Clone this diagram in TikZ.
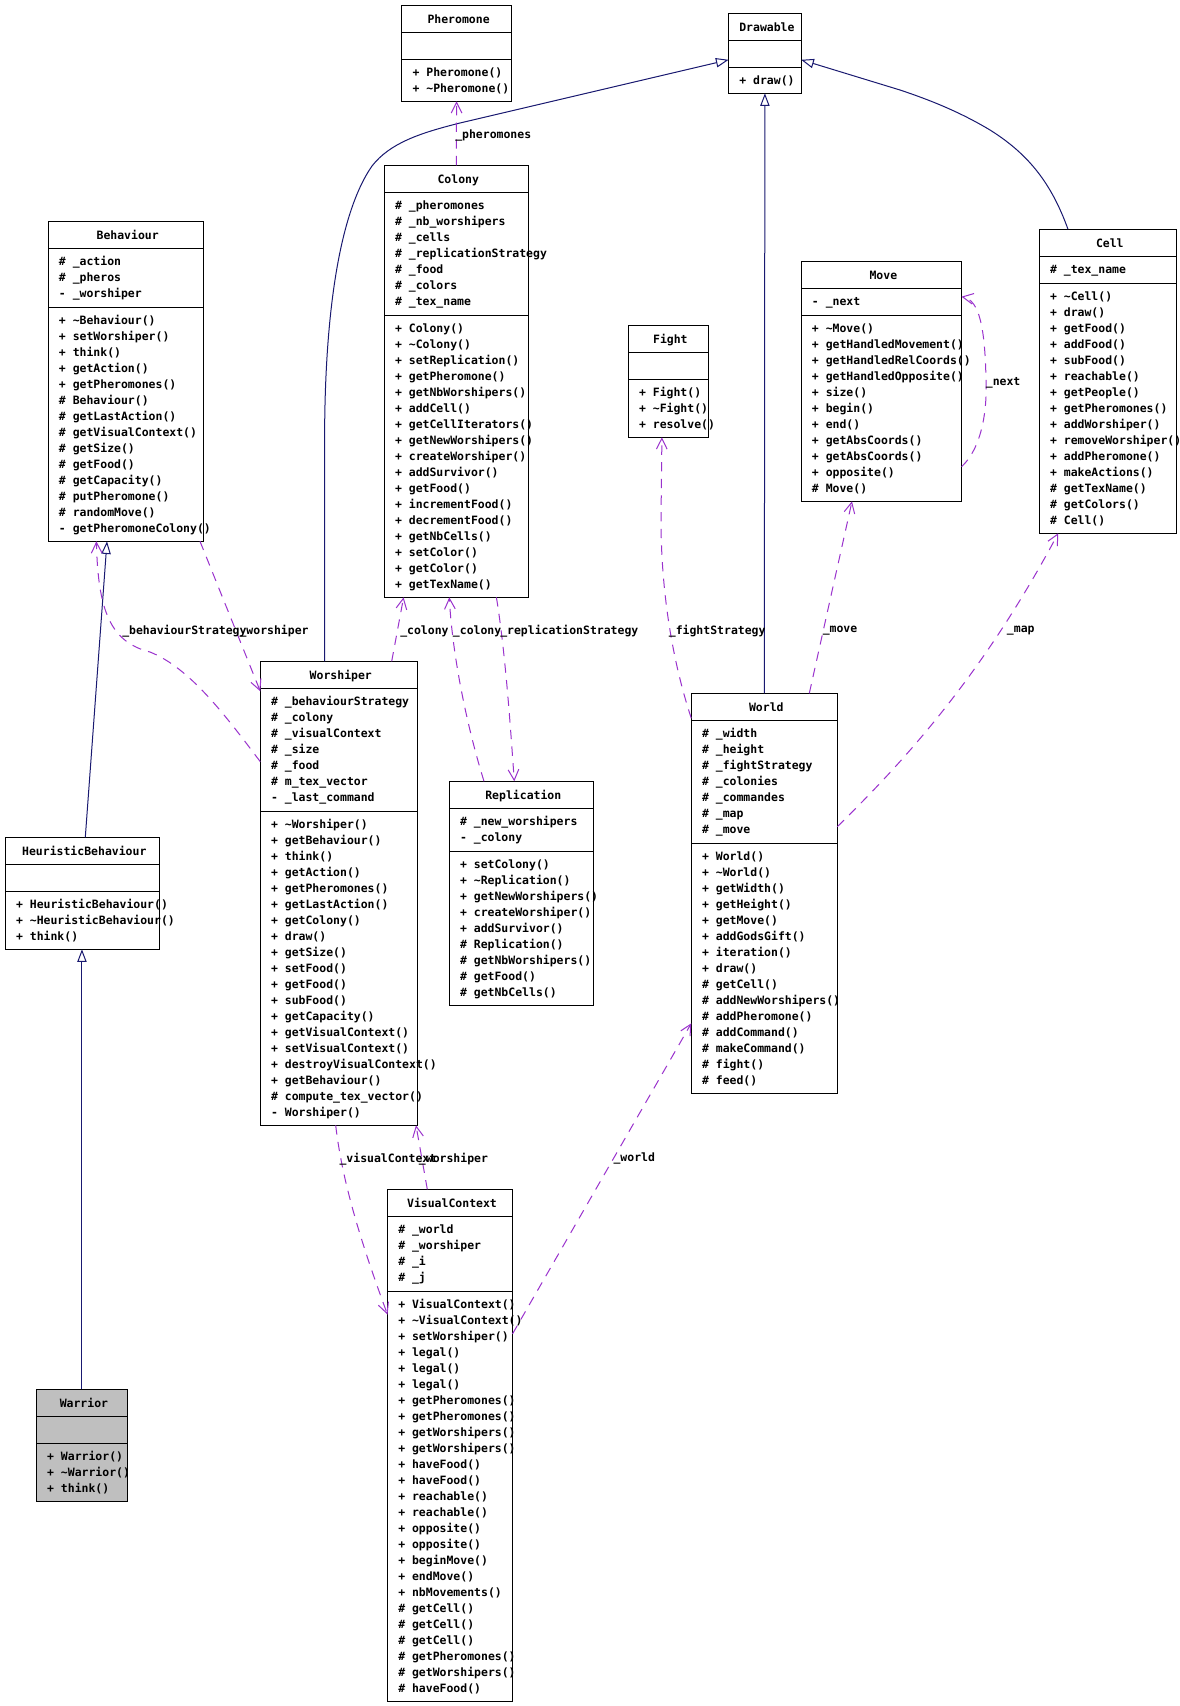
\documentclass[tikz,border=0pt]{standalone}
\usepackage{fontspec}
\setmonofont{DejaVu Sans Mono}
\usetikzlibrary{arrows.meta,calc,fit}
\definecolor{inhblue}{HTML}{191970}
\definecolor{colpurple}{HTML}{9A32CD}
\definecolor{warriorgray}{HTML}{BFBFBF}
\newcommand{\umlfont}{\ttfamily\bfseries\fontsize{8.6}{12}\selectfont}
\tikzset{
  classbox/.style={draw=black, line width=0.75pt, inner sep=0pt, outer sep=0pt, fill=white},
  classtext/.style={inner sep=0pt, font=\umlfont, text=black},
  inherit/.style={draw=inhblue, line width=0.75pt, -{Triangle[open, length=9.5pt, width=7pt]}},
  collab/.style={draw=colpurple, line width=0.75pt, dash pattern=on 7pt off 5.5pt, -{Straight Barb[length=8pt, width=8pt]}},
  edgelabel/.style={inner sep=0pt, font=\umlfont, text=black, anchor=west},
}
% name, x1, y1, x2, y(attr/ops separator), y2, title, attributes, operations
\newcommand{\umlclass}[9]{%
  \node[classbox, fit={(#2,#3) (#4,#6)}] (#1) {};
  \draw[line width=0.75pt] (#2,#3+27) -- (#4,#3+27);
  \draw[line width=0.75pt] (#2,#5) -- (#4,#5);
  \node[classtext, anchor=base] (#1-title) at ({(#2+#4)/2+2},{#3+18.5}) {#7};
  \node[classtext, anchor=north west] (#1-attrs) at ({#2+10.5},{#3+33}) {\begin{tabular}{@{}l@{}}#8\end{tabular}};
  \node[classtext, anchor=north west] (#1-ops) at ({#2+10.5},{#5+6}) {\begin{tabular}{@{}l@{}}#9\end{tabular}};
}
\newcommand{\tld}{\textasciitilde}
\begin{document}
\begin{tikzpicture}[x=0.75pt, y=-0.75pt]
\fill[white] (0,0) rectangle (1179,1706);
\useasboundingbox (0,0) rectangle (1179,1706);

\umlclass{pheromone}{401.8}{5.3}{511.4}{59.3}{101.3}{Pheromone}{}{%
+ Pheromone()\\+ \tld Pheromone()}

\umlclass{drawable}{728.6}{13.3}{801.2}{67.3}{93.3}{Drawable}{}{+ draw()}

\umlclass{behaviour}{48.2}{221.3}{203.2}{307.3}{541.3}{Behaviour}{%
\# \_action\\\# \_pheros\\- \_worshiper}{%
+ \tld Behaviour()\\+ setWorshiper()\\+ think()\\+ getAction()\\+ getPheromones()\\%
\# Behaviour()\\\# getLastAction()\\\# getVisualContext()\\\# getSize()\\\# getFood()\\%
\# getCapacity()\\\# putPheromone()\\\# randomMove()\\- getPheromoneColony()}

\umlclass{colony}{384.3}{165.3}{528.2}{315.3}{597.3}{Colony}{%
\# \_pheromones\\\# \_nb\_worshipers\\\# \_cells\\\# \_replicationStrategy\\\# \_food\\\# \_colors\\\# \_tex\_name}{%
+ Colony()\\+ \tld Colony()\\+ setReplication()\\+ getPheromone()\\+ getNbWorshipers()\\%
+ addCell()\\+ getCellIterators()\\+ getNewWorshipers()\\+ createWorshiper()\\+ addSurvivor()\\%
+ getFood()\\+ incrementFood()\\+ decrementFood()\\+ getNbCells()\\+ setColor()\\+ getColor()\\+ getTexName()}

\umlclass{cell}{1039.3}{229.3}{1176.3}{283.3}{533.3}{Cell}{\# \_tex\_name}{%
+ \tld Cell()\\+ draw()\\+ getFood()\\+ addFood()\\+ subFood()\\+ reachable()\\+ getPeople()\\%
+ getPheromones()\\+ addWorshiper()\\+ removeWorshiper()\\+ addPheromone()\\+ makeActions()\\%
\# getTexName()\\\# getColors()\\\# Cell()}

\umlclass{move}{801.2}{261.3}{961.5}{315.3}{501.3}{Move}{- \_next}{%
+ \tld Move()\\+ getHandledMovement()\\+ getHandledRelCoords()\\+ getHandledOpposite()\\+ size()\\%
+ begin()\\+ end()\\+ getAbsCoords()\\+ getAbsCoords()\\+ opposite()\\\# Move()}

\umlclass{fight}{628.3}{325.3}{708.4}{379.3}{437.3}{Fight}{}{%
+ Fight()\\+ \tld Fight()\\+ resolve()}

\umlclass{worshiper}{260.3}{661.3}{417.3}{811.3}{1125.3}{Worshiper}{%
\# \_behaviourStrategy\\\# \_colony\\\# \_visualContext\\\# \_size\\\# \_food\\\# m\_tex\_vector\\- \_last\_command}{%
+ \tld Worshiper()\\+ getBehaviour()\\+ think()\\+ getAction()\\+ getPheromones()\\+ getLastAction()\\%
+ getColony()\\+ draw()\\+ getSize()\\+ setFood()\\+ getFood()\\+ subFood()\\+ getCapacity()\\%
+ getVisualContext()\\+ setVisualContext()\\+ destroyVisualContext()\\+ getBehaviour()\\%
\# compute\_tex\_vector()\\- Worshiper()}

\umlclass{hb}{5.3}{837.3}{159.3}{891.3}{949.3}{HeuristicBehaviour}{}{%
+ HeuristicBehaviour()\\+ \tld HeuristicBehaviour()\\+ think()}

\umlclass{replication}{449.3}{781.3}{593.3}{851.3}{1005.3}{Replication}{%
\# \_new\_worshipers\\- \_colony}{%
+ setColony()\\+ \tld Replication()\\+ getNewWorshipers()\\+ createWorshiper()\\+ addSurvivor()\\%
\# Replication()\\\# getNbWorshipers()\\\# getFood()\\\# getNbCells()}

\umlclass{world}{691.3}{693.3}{837.3}{843.3}{1093.3}{World}{%
\# \_width\\\# \_height\\\# \_fightStrategy\\\# \_colonies\\\# \_commandes\\\# \_map\\\# \_move}{%
+ World()\\+ \tld World()\\+ getWidth()\\+ getHeight()\\+ getMove()\\+ addGodsGift()\\+ iteration()\\%
+ draw()\\\# getCell()\\\# addNewWorshipers()\\\# addPheromone()\\\# addCommand()\\\# makeCommand()\\%
\# fight()\\\# feed()}

\umlclass{vc}{387.5}{1189.3}{512.5}{1291.3}{1701.3}{VisualContext}{%
\# \_world\\\# \_worshiper\\\# \_i\\\# \_j}{%
+ VisualContext()\\+ \tld VisualContext()\\+ setWorshiper()\\+ legal()\\+ legal()\\+ legal()\\%
+ getPheromones()\\+ getPheromones()\\+ getWorshipers()\\+ getWorshipers()\\+ haveFood()\\+ haveFood()\\%
+ reachable()\\+ reachable()\\+ opposite()\\+ opposite()\\+ beginMove()\\+ endMove()\\+ nbMovements()\\%
\# getCell()\\\# getCell()\\\# getCell()\\\# getPheromones()\\\# getWorshipers()\\\# haveFood()}

\begin{scope}[classbox/.append style={fill=warriorgray}]
\umlclass{warrior}{36.4}{1389.3}{127.5}{1443.3}{1501.3}{Warrior}{}{%
+ Warrior()\\+ \tld Warrior()\\+ think()}
\end{scope}

% inheritance
\draw[inherit] ($(worshiper.north west)+(64.3,0)$) -- (324.6,440)
  .. controls (324.6,320) and (338,215) .. (372,166)
  .. controls (390,143) and (420,133) .. (460,123) -- ($(drawable.west)+(0,6.5)$);
\draw[inherit] (world.north) -- (drawable.south);
\draw[inherit] ($(cell.north west)+(28.7,0)$) .. controls (1052,185) and (1030,155) .. (990,130)
  .. controls (960,112) and (930,100) .. (900,90) -- ($(drawable.east)+(0,6.5)$);
\draw[inherit] ($(hb.north west)+(80,0)$) -- ($(behaviour.south west)+(58.8,0)$);
\draw[inherit] (warrior.north) -- (warrior.north |- hb.south);

% collaboration
\draw[collab] (colony.north) -- (pheromone.south);
\draw[collab] ($(behaviour.south east)+(-3.2,0)$) -- ($(worshiper.north west)+(0,30)$);
\draw[collab] ($(worshiper.north west)+(0,100.4)$) .. controls (225,715) and (190,668) .. (150,652)
  .. controls (110,642) and (98,610) .. ($(behaviour.south west)+(48.2,0)$);
\draw[collab] ($(worshiper.north west)+(131.4,0)$) -- ($(colony.south west)+(19.3,0)$);
\draw[collab] ($(replication.north west)+(34.7,0)$) .. controls (465,720) and (452,650) .. ($(colony.south west)+(65,0)$);
\draw[collab] ($(colony.south west)+(112.1,0)$) .. controls (505,650) and (510,720) .. ($(replication.north west)+(65,0)$);
\draw[collab] ($(world.north west)+(0,25)$) .. controls (672,660) and (661,590) .. (661,520) -- ($(fight.south west)+(33.6,0)$);
\draw[collab] ($(world.north west)+(118,0)$) -- ($(move.south west)+(50.8,0)$);
\draw[collab] ($(move.south east)+(0,-34.6)$) .. controls (985,445) and (987,400) .. (986,380)
  .. controls (985,330) and (980,300) .. ($(move.north east)+(0,35.4)$);
\draw[collab] ($(world.north east)+(0,133.4)$) .. controls (900,765) and (980,680) .. ($(cell.south west)+(18.9,0)$);
\draw[collab] ($(vc.north east)+(0,144.6)$) -- ($(world.north west)+(0,330)$);
\draw[collab] ($(vc.north west)+(39.8,0)$) -- ($(worshiper.south west)+(155.7,0)$);
\draw[collab] ($(worshiper.south west)+(75.4,0)$) .. controls (342,1180) and (360,1240) .. ($(vc.north west)+(0,125.2)$);

% labels
\node[edgelabel] (l-pher) at (455,135) {\_pheromones};
\node[edgelabel] (l-bs) at (122,631) {\_behaviourStrategy};
\node[edgelabel] (l-ws1) at (239.3,631) {\_worshiper};
\node[edgelabel] (l-col1) at (400,631) {\_colony};
\node[edgelabel] (l-col2) at (452.7,631) {\_colony};
\node[edgelabel] (l-rep) at (500,631) {\_replicationStrategy};
\node[edgelabel] (l-fight) at (668.6,631) {\_fightStrategy};
\node[edgelabel] (l-move) at (822.5,631) {\_move};
\node[edgelabel] (l-map) at (1006.7,631) {\_map};
\node[edgelabel] (l-next) at (985.6,383.3) {\_next};
\node[edgelabel] (l-world) at (613.3,1158.8) {\_world};
\node[edgelabel] (l-vc) at (339.3,1158.8) {\_visualContext};
\node[edgelabel] (l-ws2) at (418.7,1158.8) {\_worshiper};
\end{tikzpicture}
\end{document}
